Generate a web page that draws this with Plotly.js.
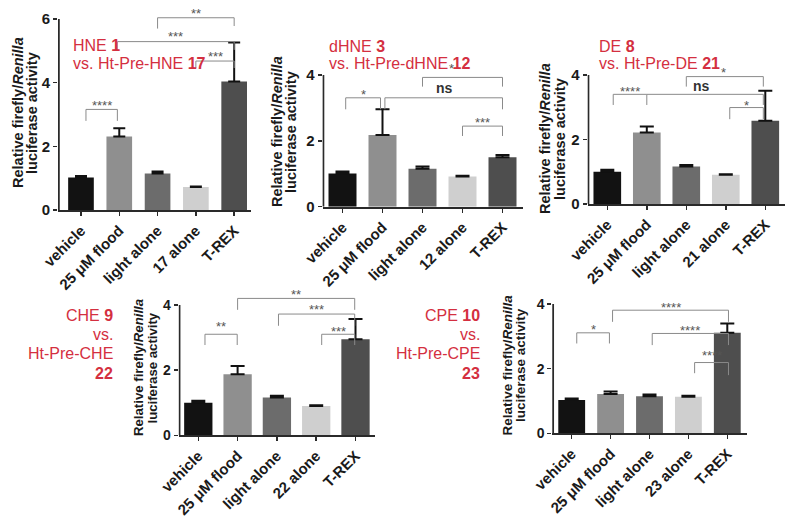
<!DOCTYPE html>
<html><head><meta charset="utf-8">
<script src="https://cdn.plot.ly/plotly-3.0.1.min.js"></script>
<style>html,body{margin:0;padding:0;background:#fff}</style>
</head><body><div id="chart" style="width:800px;height:516px"></div>
<script>
const W = 800, H = 516;

// ---------- data ----------
const catsHNE  = ['vehicle', '25 μM flood', 'light alone', '17 alone', 'T-REX'];
const catsDHNE = ['vehicle', '25 μM flood', 'light alone', '12 alone', 'T-REX'];
const catsDE   = ['vehicle', '25 μM flood', 'light alone', '21 alone', 'T-REX'];
const catsCHE  = ['vehicle', '25 μM flood', 'light alone', '22 alone', 'T-REX'];
const catsCPE  = ['vehicle', '25 μM flood', 'light alone', '23 alone', 'T-REX'];

const meanHNE  = [1.02, 2.31, 1.15, 0.72, 4.04];
const errHNE   = [0.05, 0.26, 0.06, 0.02, 1.22];
const meanDHNE = [1.01, 2.18, 1.15, 0.92, 1.50];
const errDHNE  = [0.06, 0.78, 0.07, 0.02, 0.07];
const meanDE   = [1.00, 2.22, 1.16, 0.91, 2.58];
const errDE    = [0.06, 0.18, 0.05, 0.01, 0.93];
const meanCHE  = [1.00, 1.87, 1.16, 0.90, 2.95];
const errCHE   = [0.06, 0.26, 0.05, 0.02, 0.62];
const meanCPE  = [1.03, 1.22, 1.15, 1.13, 3.11];
const errCPE   = [0.05, 0.07, 0.05, 0.03, 0.29];

const ticksHNE = [0, 2, 4, 6];
const ticks4   = [0, 2, 4];

// significance comparisons: [label, xStart, xEnd, yLine, yDropStart, yDropEnd, labelX, labelY]
const sigHNE = [
  ['****', 0.13, 0.95, 3.16, 2.80, 2.80, null, 3.37],
  ['**',   2.0,  4.0,  6.04, 5.70, 5.78, null, 6.28],
  ['***',  0.95, 4.0,  5.29, 5.03, 5.03, null, 5.55],
  ['***',  3.0,  4.0,  4.68, 4.46, 4.46, null, 4.92]
];
const sigDHNE = [
  ['*',    0.08, 0.95, 3.31, 2.96, 2.96, null, 3.50],
  ['ns',   1.06, 4.0,  3.31, 2.96, 2.96, 2.56, 3.60],
  ['*',    2.0,  4.0,  3.93, 3.65, 3.65, 2.72, 4.28],
  ['***',  3.0,  4.0,  2.45, 2.15, 2.15, null, 2.66]
];
const sigDE = [
  ['****', 0.15, 1.0,  3.40, 3.07, 3.07, null, 3.59],
  ['ns',   1.0,  3.95, 3.40, 3.40, 3.07, 2.39, 3.66],
  ['*',    2.0,  3.95, 3.95, 3.64, 3.64, 2.93, 4.18],
  ['*',    3.1,  3.95, 2.99, 2.63, 2.63, null, 3.14]
];
const sigCHE = [
  ['**',   0.17, 0.99, 3.10, 2.77, 2.77, null, 3.44],
  ['**',   1.0,  3.98, 4.20, 3.85, 3.85, null, 4.40],
  ['***',  2.04, 3.98, 3.72, 3.36, 3.36, null, 3.95],
  ['***',  3.14, 3.98, 3.10, 2.77, 2.77, null, 3.28]
];
const sigCPE = [
  ['*',    0.13, 0.97, 3.11, 2.78, 2.78, null, 3.30],
  ['****', 1.05, 4.03, 3.81, 3.45, 3.45, null, 4.00],
  ['****', 2.07, 4.03, 3.09, 2.73, 2.73, null, 3.28],
  ['****', 3.16, 4.03, 2.19, 1.86, 1.80, null, 2.49]
];

const barColors = ['#121212', '#8f8f8f', '#6c6c6c', '#cfcfcf', '#4e4e4e'];
const red = '#d42f40';
const FONT = 'Liberation Sans, Arial, Helvetica, sans-serif';

// ---------- panel geometry (pixels) ----------
const panels = [
  {id: '',  cats: catsHNE,  mean: meanHNE,  err: errHNE,  sig: sigHNE,  ticks: ticksHNE,
   px: [58, 251.4],     py: [4.7, 210],    xr: [-0.6, 4.45], yr: [0, 6.45], cap: 6, bw: 0.67, tf: 15, xf: 15},
  {id: '2', cats: catsDHNE, mean: meanDHNE, err: errDHNE, sig: sigDHNE, ticks: ticks4,
   px: [322.5, 522.5],  py: [60.3, 206.7], xr: [-0.5, 4.5],  yr: [0, 4.45], cap: 7, bw: 0.7, tf: 15, xf: 15},
  {id: '3', cats: catsDE,   mean: meanDE,   err: errDE,   sig: sigDE,   ticks: ticks4,
   px: [587.55, 785.05], py: [63.7, 204],  xr: [-0.5, 4.5],  yr: [0, 4.35], cap: 7, bw: 0.7, tf: 15, xf: 15},
  {id: '4', cats: catsCHE,  mean: meanCHE,  err: errCHE,  sig: sigCHE,  ticks: ticks4,
   px: [178.65, 375.15], py: [287.0, 435.3], xr: [-0.5, 4.5], yr: [0, 4.55], cap: 7, bw: 0.72, tf: 14, xf: 15},
  {id: '5', cats: catsCPE,  mean: meanCPE,  err: errCPE,  sig: sigCPE,  ticks: ticks4,
   px: [552.25, 746.75], py: [297.6, 433.3], xr: [-0.5, 4.5], yr: [0, 4.2], cap: 7, bw: 0.69, tf: 14, xf: 15}
];

const data = [];
const layout = {
  width: W, height: H, margin: {l: 0, r: 0, t: 0, b: 0},
  paper_bgcolor: '#fff', plot_bgcolor: 'rgba(0,0,0,0)', showlegend: false,
  font: {family: FONT, color: '#1a1a1a'},
  shapes: [], annotations: []
};

panels.forEach(p => {
  const xa = 'x' + p.id, ya = 'y' + p.id;
  data.push({
    type: 'bar', x: p.cats, y: p.mean, xaxis: xa, yaxis: ya,
    width: p.bw, marker: {color: barColors, line: {width: 0}},
    error_y: {type: 'data', array: p.err, arrayminus: p.err.map(() => 0), symmetric: false,
              color: '#111', thickness: 2, width: p.cap},
    hoverinfo: 'none'
  });
  layout['xaxis' + p.id] = {
    domain: [p.px[0] / W, p.px[1] / W], anchor: ya, type: 'category', range: p.xr,
    showline: true, linewidth: 2, linecolor: '#2a2a2a', ticks: 'outside', ticklen: 4,
    tickwidth: 1.5, tickcolor: '#2a2a2a', tickangle: -45, showgrid: false, zeroline: false,
    tickfont: {family: FONT, size: p.xf, color: '#1a1a1a', weight: 'bold'}, fixedrange: true
  };
  layout['yaxis' + p.id] = {
    domain: [1 - p.py[1] / H, 1 - p.py[0] / H], anchor: xa, range: p.yr,
    showline: false, ticks: 'outside', ticklen: 4, tickwidth: 1.5, tickcolor: '#2a2a2a',
    tickmode: 'array', tickvals: p.ticks, ticktext: p.ticks.map(String),
    showgrid: false, zeroline: false,
    tickfont: {family: FONT, size: p.tf, color: '#1a1a1a', weight: 'bold'}, fixedrange: true
  };
  // y axis line, from 0 to the top tick
  layout.shapes.push({type: 'line', xref: xa, yref: ya, x0: p.xr[0] + 0.02, x1: p.xr[0] + 0.02,
    y0: 0, y1: p.ticks[p.ticks.length - 1], line: {color: '#2a2a2a', width: 2}});
  // significance brackets
  p.sig.forEach(s => {
    const [lab, xs, xe, yl, yds, yde, lx, ly] = s;
    const ln = {color: '#8a8a8a', width: 1};
    layout.shapes.push({type: 'line', xref: xa, yref: ya, x0: xs, x1: xe, y0: yl, y1: yl, line: ln});
    if (yds !== yl) layout.shapes.push({type: 'line', xref: xa, yref: ya, x0: xs, x1: xs, y0: yds, y1: yl, line: ln});
    if (yde !== yl) layout.shapes.push({type: 'line', xref: xa, yref: ya, x0: xe, x1: xe, y0: yde, y1: yl, line: ln});
    const isNs = lab === 'ns';
    layout.annotations.push({
      xref: xa, yref: ya, x: lx === null ? (xs + xe) / 2 : lx, y: ly, text: lab, showarrow: false,
      xanchor: 'center', yanchor: 'middle', yshift: isNs ? 0 : -3,
      font: {family: FONT, size: isNs ? 14 : 13, color: isNs ? '#333' : '#555', weight: isNs ? 'bold' : 'normal'}
    });
  });
});

// ---------- text annotations ----------
function pa(text, x, y, xanchor, size) {
  return {xref: 'paper', yref: 'paper', x: x / W, y: 1 - y / H, text: text,
    showarrow: false, xanchor: xanchor, yanchor: 'middle',
    font: {family: FONT, size: size, color: red}};
}
const titleLines = [
  ['HNE <b>1</b>', 71, 45, 'left'], ['vs. Ht-Pre-HNE <b>17</b>', 71, 63, 'left'],
  ['dHNE <b>3</b>', 327, 46.5, 'left'], ['vs. Ht-Pre-dHNE <b>12</b>', 327, 63, 'left'],
  ['DE <b>8</b>', 597, 46.5, 'left'], ['vs. Ht-Pre-DE <b>21</b>', 597, 63, 'left'],
  ['CHE <b>9</b>', 115, 315, 'right'], ['vs.', 115, 334.5, 'right'],
  ['Ht-Pre-CHE', 115, 353.5, 'right'], ['<b>22</b>', 115, 373, 'right'],
  ['CPE <b>10</b>', 482, 315, 'right'], ['vs.', 482, 334.5, 'right'],
  ['Ht-Pre-CPE', 482, 353.5, 'right'], ['<b>23</b>', 482, 373, 'right']
];
titleLines.forEach(t => layout.annotations.push(pa(t[0], t[1], t[2], t[3], 16)));

const yTitle1 = 'Relative firefly/<i>Renilla</i>';
const yTitle2 = 'luciferase activity';
const yTitlePos = [
  [18, 32, 113, 14.5], [277, 291, 132, 14.5], [545, 560, 139, 14.5],
  [138, 151.5, 368, 13.2], [506.5, 520, 365, 13.5]
];
yTitlePos.forEach(q => {
  [[yTitle1, q[0]], [yTitle2, q[1]]].forEach(([t, x]) => {
    layout.annotations.push({xref: 'paper', yref: 'paper', x: x / W, y: 1 - q[2] / H, text: t,
      showarrow: false, textangle: -90, xanchor: 'center', yanchor: 'middle',
      font: {family: FONT, size: q[3], color: '#1a1a1a', weight: 'bold'}});
  });
});

Plotly.newPlot('chart', data, layout, {staticPlot: true, displayModeBar: false});
</script></body></html>
